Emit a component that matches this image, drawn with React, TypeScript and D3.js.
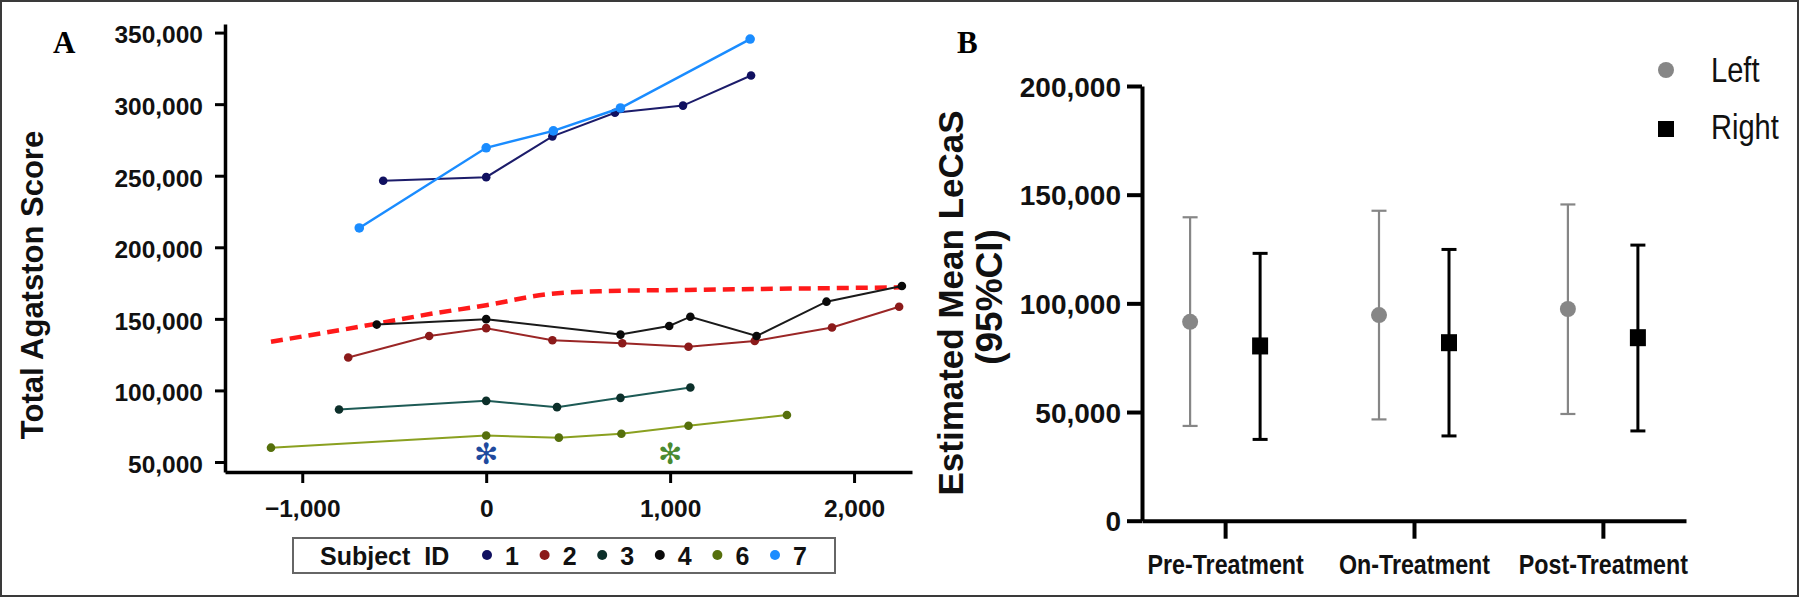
import { useEffect, useRef } from "react";
import * as d3 from "d3";

// ---- panel A: total Agatston score by day relative to treatment start
const subjectIds = ["1", "2", "3", "4", "6", "7"];
const subjectDotColors = ["#101060", "#8b1a1a", "#0c2f2a", "#0a0a0a", "#556f0c", "#1a8cff"];
const subjectLineColors = ["#1c1c6a", "#9a2626", "#1d5a55", "#1a1a1a", "#8aa020", "#1a8cff"];

const days1 = [-560, 0, 360, 700, 1070, 1440];
const score1 = [246500, 249000, 277500, 294000, 299000, 320000];
const days2 = [-750, -310, 0, 360, 740, 1100, 1460, 1880, 2245];
const score2 = [123000, 138000, 143500, 135000, 133000, 130500, 134500, 144000, 158500];
const days3 = [-800, 0, 385, 730, 1110];
const score3 = [86700, 92700, 88300, 94800, 102000];
const days4 = [-595, 0, 730, 995, 1110, 1470, 1850, 2260];
const score4 = [146000, 149800, 139000, 145000, 151500, 138000, 162000, 173000];
const days6 = [-1170, 0, 395, 735, 1100, 1635];
const score6 = [60000, 68500, 67000, 69700, 75300, 82800];
const days7 = [-690, 0, 365, 730, 1435];
const score7 = [213500, 269500, 281300, 297300, 345500];

const trendDays = [-1170, -600, -300, 0, 350, 620, 1160, 2250];
const trendScore = [134000, 146500, 153500, 159500, 167500, 169300, 170300, 172000];

const yTicksA = [50000, 100000, 150000, 200000, 250000, 300000, 350000];
const xTicksA = [-1000, 0, 1000, 2000];
// asterisk markers under the x axis
const markerDays = [0, 1000];
const markerColors = ["#1f4a9e", "#4a8a30"];

// ---- panel B: estimated mean LeCaS with 95% CI
const phases = ["Pre-Treatment", "On-Treatment", "Post-Treatment"];
const leftMean = [91500, 94600, 97400];
const leftLow = [43600, 46600, 49100];
const leftHigh = [139600, 142600, 145500];
const rightMean = [80400, 81900, 84200];
const rightLow = [37400, 39000, 41300];
const rightHigh = [123000, 124800, 126800];
const yTicksB = [0, 50000, 100000, 150000, 200000];

const SANS = "'Liberation Sans', Arial, sans-serif";
const SERIF = "'Liberation Serif', 'Times New Roman', serif";

// squeeze text horizontally to imitate a narrow face
function narrow(sel: any, factor = 0.82) {
  sel.each(function (this: SVGTextElement) {
    const len = this.getComputedTextLength();
    this.setAttribute("textLength", String(len * factor));
    this.setAttribute("lengthAdjust", "spacingAndGlyphs");
  });
}

function App() {
  const node = useRef<SVGSVGElement>(null);

  useEffect(() => {
    document.body.style.margin = "0";
    document.body.style.overflow = "hidden";
    const svg = d3.select(node.current);
    svg.selectAll("*").remove();

    svg.append("rect").attr("width", 1800).attr("height", 598).attr("fill", "#fff");
    svg.append("rect")
      .attr("x", 1).attr("y", 1).attr("width", 1797).attr("height", 595)
      .attr("fill", "none").attr("stroke", "#3a3a3a").attr("stroke-width", 2);

    // ================= PANEL A =================
    const xA = d3.scaleLinear().domain([-1420, 2315]).range([225, 912]);
    const yA = d3.scaleLinear().domain([43000, 356000]).range([472, 24]);
    const gA = svg.append("g");

    const axL = gA.append("g").attr("transform", "translate(225,0)")
      .call(d3.axisLeft(yA).tickValues(yTicksA).tickFormat(d3.format(",")).tickSize(10).tickSizeOuter(0).tickPadding(12));
    const axB = gA.append("g").attr("transform", "translate(0,472)")
      .call(d3.axisBottom(xA).tickValues(xTicksA).tickFormat(d3.format(",")).tickSize(11).tickSizeOuter(0).tickPadding(17));
    [axL, axB].forEach(ax => {
      ax.select(".domain").attr("stroke", "#000").attr("stroke-width", 3.5);
      ax.selectAll(".tick line").attr("stroke", "#000").attr("stroke-width", 3);
      ax.selectAll(".tick text").attr("fill", "#111").attr("font-family", SANS)
        .attr("font-weight", "bold").attr("font-size", 24.5);
    });
    axL.selectAll(".tick text").attr("dy", "0.42em");

    gA.append("text").attr("x", 53).attr("y", 53)
      .attr("font-family", SERIF).attr("font-weight", "bold").attr("font-size", 31).text("A");
    gA.append("text").attr("transform", "translate(43,285) rotate(-90)")
      .attr("text-anchor", "middle").attr("font-family", SANS).attr("font-weight", "bold")
      .attr("font-size", 31).attr("fill", "#111").text("Total Agatston Score");

    // trend
    const trend = trendDays.map((d, i) => [d, trendScore[i]] as [number, number]);
    gA.append("path")
      .attr("d", d3.line().x(d => xA(d[0])).y(d => yA(d[1])).curve(d3.curveMonotoneX)(trend))
      .attr("fill", "none").attr("stroke", "#ff1a1a").attr("stroke-width", 4.5)
      .attr("stroke-dasharray", "12,7");

    const subjects = [
      [days1, score1], [days2, score2], [days3, score3],
      [days4, score4], [days6, score6], [days7, score7],
    ];
    subjects.forEach(([days, scores], k) => {
      const pts = days.map((d, i) => [d, scores[i]] as [number, number]);
      gA.append("path")
        .attr("d", d3.line().x(d => xA(d[0])).y(d => yA(d[1]))(pts))
        .attr("fill", "none").attr("stroke", subjectLineColors[k]).attr("stroke-width", k === 5 ? 2.5 : 2);
      gA.selectAll(null).data(pts).enter().append("circle")
        .attr("cx", d => xA(d[0])).attr("cy", d => yA(d[1]))
        .attr("r", k === 5 ? 4.8 : 4.3).attr("fill", subjectDotColors[k]);
    });

    markerDays.forEach((d, i) => {
      gA.append("text").attr("x", xA(d)).attr("y", 454)
        .attr("text-anchor", "middle").attr("dominant-baseline", "central")
        .attr("font-family", "'DejaVu Sans', sans-serif").attr("font-size", 29)
        .attr("fill", markerColors[i]).text("\u273B");
    });

    // legend A
    const lg = gA.append("g");
    lg.append("rect").attr("x", 293).attr("y", 538).attr("width", 542).attr("height", 35)
      .attr("fill", "#fff").attr("stroke", "#666").attr("stroke-width", 2);
    lg.append("text").attr("x", 320).attr("y", 565).attr("font-family", SANS)
      .attr("font-weight", "bold").attr("font-size", 25).attr("fill", "#111")
      .attr("xml:space", "preserve").text("Subject  ID");
    const legX = d3.scalePoint().domain(subjectIds).range([487, 775]);
    subjectIds.forEach((id, k) => {
      lg.append("circle").attr("cx", legX(id)!).attr("cy", 555).attr("r", 5).attr("fill", subjectDotColors[k]);
      lg.append("text").attr("x", legX(id)! + 25).attr("y", 565).attr("text-anchor", "middle")
        .attr("font-family", SANS).attr("font-weight", "bold").attr("font-size", 25).attr("fill", "#111").text(id);
    });

    // ================= PANEL B =================
    const xB = d3.scalePoint().domain(phases).range([1142, 1686]).padding(0.44);
    const yB = d3.scaleLinear().domain([0, 200000]).range([520.7, 86]);
    const gB = svg.append("g");

    const bL = gB.append("g").attr("transform", "translate(1142,0)")
      .call(d3.axisLeft(yB).tickValues(yTicksB).tickFormat(d3.format(",")).tickSize(15).tickSizeOuter(0).tickPadding(6));
    const bB = gB.append("g").attr("transform", "translate(0,520.7)")
      .call(d3.axisBottom(xB).tickSize(18).tickSizeOuter(0).tickPadding(15));
    [bL, bB].forEach(ax => {
      ax.select(".domain").attr("stroke", "#000").attr("stroke-width", 4);
      ax.selectAll(".tick line").attr("stroke", "#000").attr("stroke-width", 4);
      ax.selectAll(".tick text").attr("fill", "#111").attr("font-family", SANS)
        .attr("font-weight", "bold").attr("font-size", 28);
    });
    bL.selectAll(".tick text").attr("dy", "0.36em");
    narrow(bB.selectAll(".tick text"), 0.83);

    gB.append("text").attr("x", 957).attr("y", 53)
      .attr("font-family", SERIF).attr("font-weight", "bold").attr("font-size", 31).text("B");
    gB.append("text").attr("transform", "translate(963,303) rotate(-90)")
      .attr("text-anchor", "middle").attr("font-family", SANS).attr("font-weight", "bold")
      .attr("font-size", 35).attr("fill", "#111").text("Estimated Mean LeCaS");
    gB.append("text").attr("transform", "translate(1002,297) rotate(-90)")
      .attr("text-anchor", "middle").attr("font-family", SANS).attr("font-weight", "bold")
      .attr("font-size", 37).attr("fill", "#111").text("(95%CI)");

    const drawSide = (mean: number[], low: number[], high: number[], off: number, color: string, sw: number, square: boolean) => {
      phases.forEach((p, i) => {
        const cx = xB(p)! + off;
        gB.append("line").attr("x1", cx).attr("x2", cx).attr("y1", yB(low[i])).attr("y2", yB(high[i]))
          .attr("stroke", color).attr("stroke-width", sw);
        [low[i], high[i]].forEach(v => {
          gB.append("line").attr("x1", cx - 7.5).attr("x2", cx + 7.5).attr("y1", yB(v)).attr("y2", yB(v))
            .attr("stroke", color).attr("stroke-width", sw);
        });
        if (square) {
          gB.append("rect").attr("x", cx - 8).attr("y", yB(mean[i]) - 8.5).attr("width", 16).attr("height", 17).attr("fill", color);
        } else {
          gB.append("circle").attr("cx", cx).attr("cy", yB(mean[i])).attr("r", 8).attr("fill", color);
        }
      });
    };
    drawSide(leftMean, leftLow, leftHigh, -35, "#868686", 2.2, false);
    drawSide(rightMean, rightLow, rightHigh, 35, "#000", 3, true);

    // legend B
    gB.append("circle").attr("cx", 1666).attr("cy", 70).attr("r", 8).attr("fill", "#868686");
    gB.append("rect").attr("x", 1658).attr("y", 121).attr("width", 16).attr("height", 16).attr("fill", "#000");
    const lt = gB.selectAll(null).data(["Left", "Right"]).enter().append("text")
      .attr("x", 1711).attr("y", (d, i) => (i === 0 ? 82 : 139))
      .attr("font-family", SANS).attr("font-size", 35).attr("fill", "#111").text(d => d);
    narrow(lt, 0.83);
  }, []);

  return (
    <svg ref={node} width={1800} height={598} style={{ position: "absolute", left: 0, top: 0, display: "block" }} />
  );
}

export default App;
